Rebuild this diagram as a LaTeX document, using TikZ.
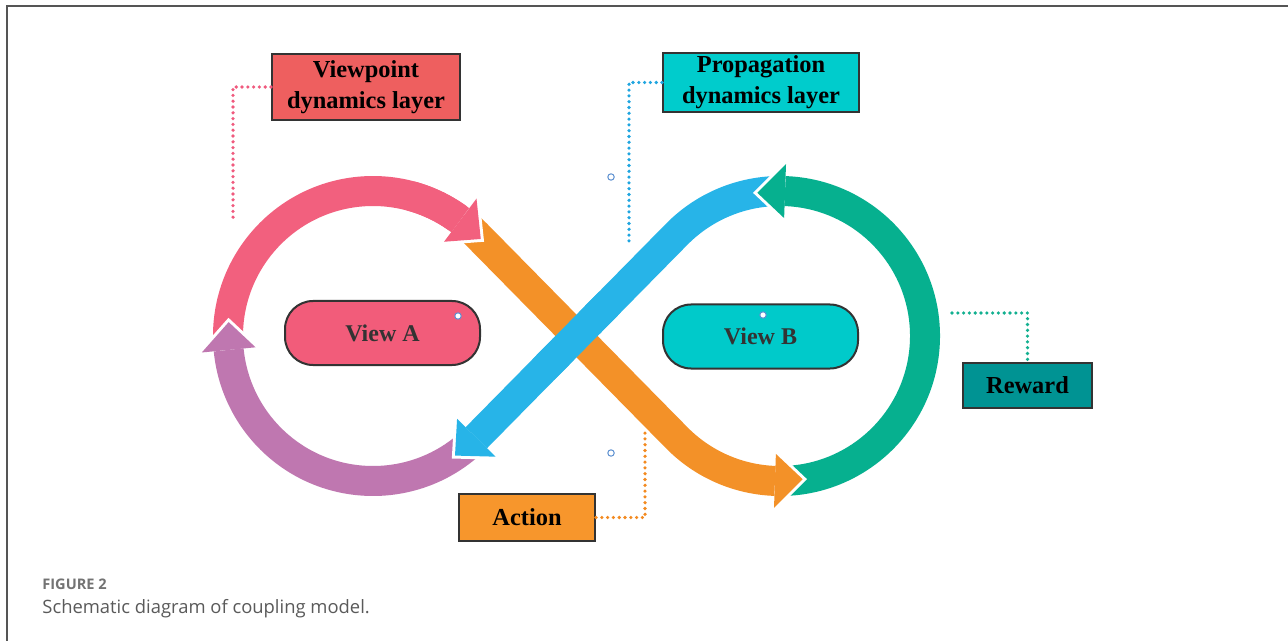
\documentclass[tikz,border=0pt]{standalone}
\usepackage{fontspec}
\setmainfont{Liberation Serif}
\newfontfamily\capfont{Open Sans}
\usetikzlibrary{calc}
\definecolor{cpink}{HTML}{F2607E}
\definecolor{cpurple}{HTML}{BF77B0}
\definecolor{cblue}{HTML}{27B4E8}
\definecolor{cgreen}{HTML}{06B08F}
\definecolor{corange}{HTML}{F39128}
\definecolor{cviewa}{HTML}{F25C7A}
\definecolor{cviewb}{HTML}{00CACA}
\definecolor{cvp}{HTML}{EE5F5F}
\definecolor{cpd}{HTML}{00CCCC}
\definecolor{crw}{HTML}{009393}
\definecolor{cact}{HTML}{F7962C}
\definecolor{cedge}{HTML}{333333}
\definecolor{cdotpink}{HTML}{F05A7E}
\definecolor{cdotblue}{HTML}{1FA5E0}
\definecolor{cdotgreen}{HTML}{12B090}
\definecolor{cdotorange}{HTML}{F38A20}
\definecolor{cmark}{HTML}{5B8FD0}
\definecolor{ccap}{HTML}{5A5A5A}
\definecolor{cframe}{HTML}{555555}
\newcommand{\arrowpiece}[3]{%
  \draw[white, line width=18pt] #2;
  \filldraw[white, line width=3pt, line join=miter] #3;
  \draw[#1, line width=15pt] #2;
  \fill[#1] #3;}
\tikzset{
  lbl/.style={draw=cedge, line width=1pt, rectangle, align=center, inner sep=0pt,
    font=\fontsize{12.2pt}{15.5pt}\selectfont\bfseries, text=black},
  viewbox/.style={draw=cedge, line width=1pt, rounded corners=14pt, inner sep=0pt,
    font=\fontsize{12pt}{14pt}\selectfont\bfseries, text=cedge,
    minimum width=97.5pt, minimum height=32pt},
  dotline/.style={line width=1.8pt, line cap=round, dash pattern=on 0pt off 2.9pt},
  ctrlmark/.style={draw=cmark, fill=white, line width=0.5pt, circle, inner sep=0pt, minimum size=3.2pt}
}
\begin{document}
\begin{tikzpicture}[x=0.5pt,y=0.5pt]
\useasboundingbox (0,0) rectangle (1288,-641);
\fill[white] (0,0) rectangle (1288,-641);
\draw[cframe, line width=1pt] (7,-641) -- (7,-6) -- (1288,-6);

\coordinate (CL) at (373,-336);
\coordinate (CR) at (780,-336);

% pink
\arrowpiece{cpink}
 {($(CL)+(185.5:145)$) arc[start angle=185.5,end angle=53,radius=72.5pt]}
 {($(CL)+(53:118)$) -- ($(CL)+(53:172)$) -- ($(CL)+(42:145)$) -- cycle}
% purple
\arrowpiece{cpurple}
 {($(CL)+(-44.56:145)$) arc[start angle=-44.56,end angle=-174.5,radius=72.5pt]}
 {($(CL)+(-174.5:118)$) -- ($(CL)+(-174.5:172)$) -- ($(CL)+(-185.5:145)$) -- cycle}
% blue
\arrowpiece{cblue}
 {($(CR)+(88:145)$) arc[start angle=88,end angle=135.44,radius=72.5pt] -- ($(CL)+(-44.56:145)$)}
 {($(CL)+(-44.56:118)$) -- ($(CL)+(-44.56:172)$) -- ($(CL)+(-55.56:145)$) -- cycle}
% green
\arrowpiece{cgreen}
 {($(CR)+(268:145)$) arc[start angle=268,end angle=448,radius=72.5pt]}
 {($(CR)+(88:118)$) -- ($(CR)+(88:172)$) -- ($(CR)+(99:145)$) -- cycle}
% orange
\arrowpiece{corange}
 {($(CL)+(53:145)$) arc[start angle=53,end angle=44.56,radius=72.5pt] -- ($(CR)+(224.56:145)$) arc[start angle=224.56,end angle=268,radius=72.5pt]}
 {($(CR)+(268:118)$) -- ($(CR)+(268:172)$) -- ($(CR)+(279:145)$) -- cycle}
% pink head over orange tail
\filldraw[white, line width=3pt, line join=miter] ($(CL)+(53:118)$) -- ($(CL)+(53:172)$) -- ($(CL)+(42:145)$) -- cycle;
\begin{scope}
\clip (CL) -- ($(CL)+(45:230)$) -- ($(CL)+(75:230)$) -- cycle;
\draw[cpink, line width=15pt] ($(CL)+(185.5:145)$) arc[start angle=185.5,end angle=53,radius=72.5pt];
\end{scope}
\fill[cpink] ($(CL)+(53:118)$) -- ($(CL)+(53:172)$) -- ($(CL)+(42:145)$) -- cycle;
% blue over orange at the crossing
\begin{scope}
\clip (576.5,-336) circle[radius=25pt];
\draw[cblue, line width=15pt] ($(CR)+(88:145)$) arc[start angle=88,end angle=135.44,radius=72.5pt] -- ($(CL)+(-44.56:145)$);
\end{scope}

% views
\node[viewbox, fill=cviewa] (va) at (382.5,-333) {View A};
\node[viewbox, fill=cviewb] (vb) at (760.5,-336.5) {View B};

% labels
\node[lbl, fill=cvp, minimum width=94pt, minimum height=33pt] (vp) at (366,-87) {Viewpoint\\dynamics layer};
\node[lbl, fill=cpd, minimum width=98pt, minimum height=29.5pt] (pd) at (761,-82.5) {Propagation\\dynamics layer};
\node[lbl, fill=crw, minimum width=64.5pt, minimum height=22.5pt] (rw) at (1027.5,-385.5) {Reward};
\node[lbl, fill=cact, minimum width=68pt, minimum height=23.5pt] (act) at (527,-517.5) {Action};

% dotted connectors
\coordinate (vpend) at (233,-222);
\coordinate (pdend) at (629,-245);
\coordinate (rwstart) at (952,-313);
\coordinate (actend) at (645,-433);
\draw[dotline, cdotpink] (vp.west) -| (vpend);
\draw[dotline, cdotblue] (pd.west) -| (pdend);
\draw[dotline, cdotgreen] (rwstart) -| (rw.north);
\draw[dotline, cdotorange] (act.east) -| (actend);

% small marks
\node[ctrlmark] (m1) at (458,-316) {};
\node[ctrlmark] (m2) at (763,-315) {};
\node[ctrlmark] (m3) at (611,-177) {};
\node[ctrlmark] (m4) at (611,-453) {};

% caption
\node[anchor=base west, inner sep=0pt, text=ccap!85, font=\capfont\fontsize{7.3pt}{9pt}\selectfont\bfseries] (fig) at (42,-589) {FIGURE 2};
\node[anchor=base west, inner sep=0pt, text=ccap, font=\capfont\fontsize{9.2pt}{10pt}\selectfont] (cap) at (42,-613) {Schematic diagram of coupling model.};
\end{tikzpicture}
\end{document}
